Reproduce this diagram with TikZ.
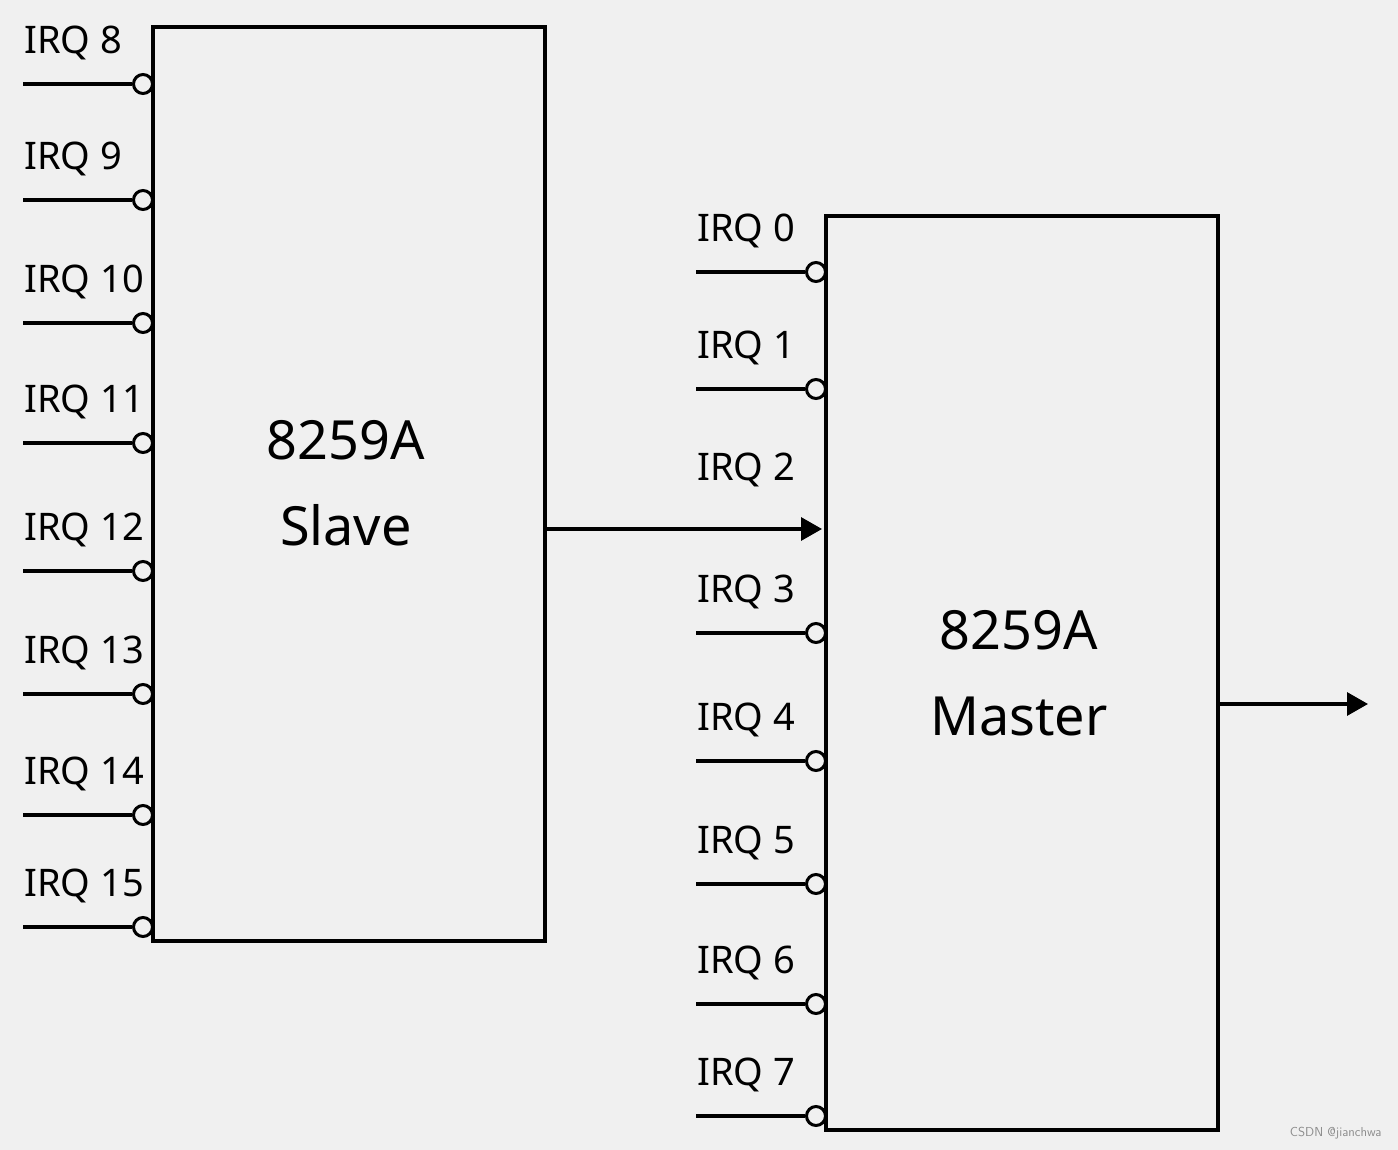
\documentclass[tikz,border=0pt]{standalone}
\usepackage{fontspec}
\setmainfont{Noto Sans}
\usetikzlibrary{arrows.meta}
\definecolor{bg}{HTML}{F0F0F0}
\begin{document}
\begin{tikzpicture}[x=1pt,y=-1pt,
  chip/.style={draw, line width=3.2pt, fill=bg},
  wire/.style={line width=3.2pt},
  bubble/.style={circle, draw, line width=3pt, fill=bg, minimum size=19pt, inner sep=0pt},
  irqlbl/.style={anchor=west, inner sep=0pt, font=\fontsize{38}{38}\selectfont},
  chiplbl/.style={align=center, font=\fontsize{54}{86}\selectfont},
  sig/.style={wire, -{Triangle[length=21pt,width=23pt]}}
]
\fill[bg] (0,0) rectangle (1398,1150);
\useasboundingbox (0,0) rectangle (1398,1150);
% chips
\draw[chip] (153,27) rectangle (545,941);
\node[chiplbl] (slave) at (346,483) {8259A\\Slave};
\draw[chip] (826,216) rectangle (1218,1130);
\node[chiplbl] (master) at (1019,673) {8259A\\Master};
% slave inputs
\foreach \n/\y in {8/84,9/200,10/323,11/443,12/571,13/694,14/815,15/927}{
  \coordinate (s\n) at (23,\y);
  \node[bubble] (sb\n) at (143,\y) {};
  \draw[wire] (s\n) -- (sb\n.west);
  \node[irqlbl] (sl\n) at (24,\y-41) {IRQ \n};
}
% master inputs
\foreach \n/\y in {0/272,1/389,3/633,4/761,5/884,6/1004,7/1116}{
  \coordinate (m\n) at (696,\y);
  \node[bubble] (mb\n) at (816,\y) {};
  \draw[wire] (m\n) -- (mb\n.west);
  \node[irqlbl] (ml\n) at (697,\y-41) {IRQ \n};
}
\node[irqlbl] (ml2) at (697,470) {IRQ 2};
% cascade
\coordinate (sout) at (545,529);
\coordinate (min2) at (822,529);
\draw[sig] (sout) -- (min2);
\coordinate (mout) at (1218,704);
\coordinate (intr) at (1368,704);
\draw[sig] (mout) -- (intr);
\node[anchor=east, text=black!45, font=\fontsize{13}{13}\selectfont\sffamily] (wm) at (1385,1133) {CSDN @jianchwa};
\end{tikzpicture}
\end{document}
